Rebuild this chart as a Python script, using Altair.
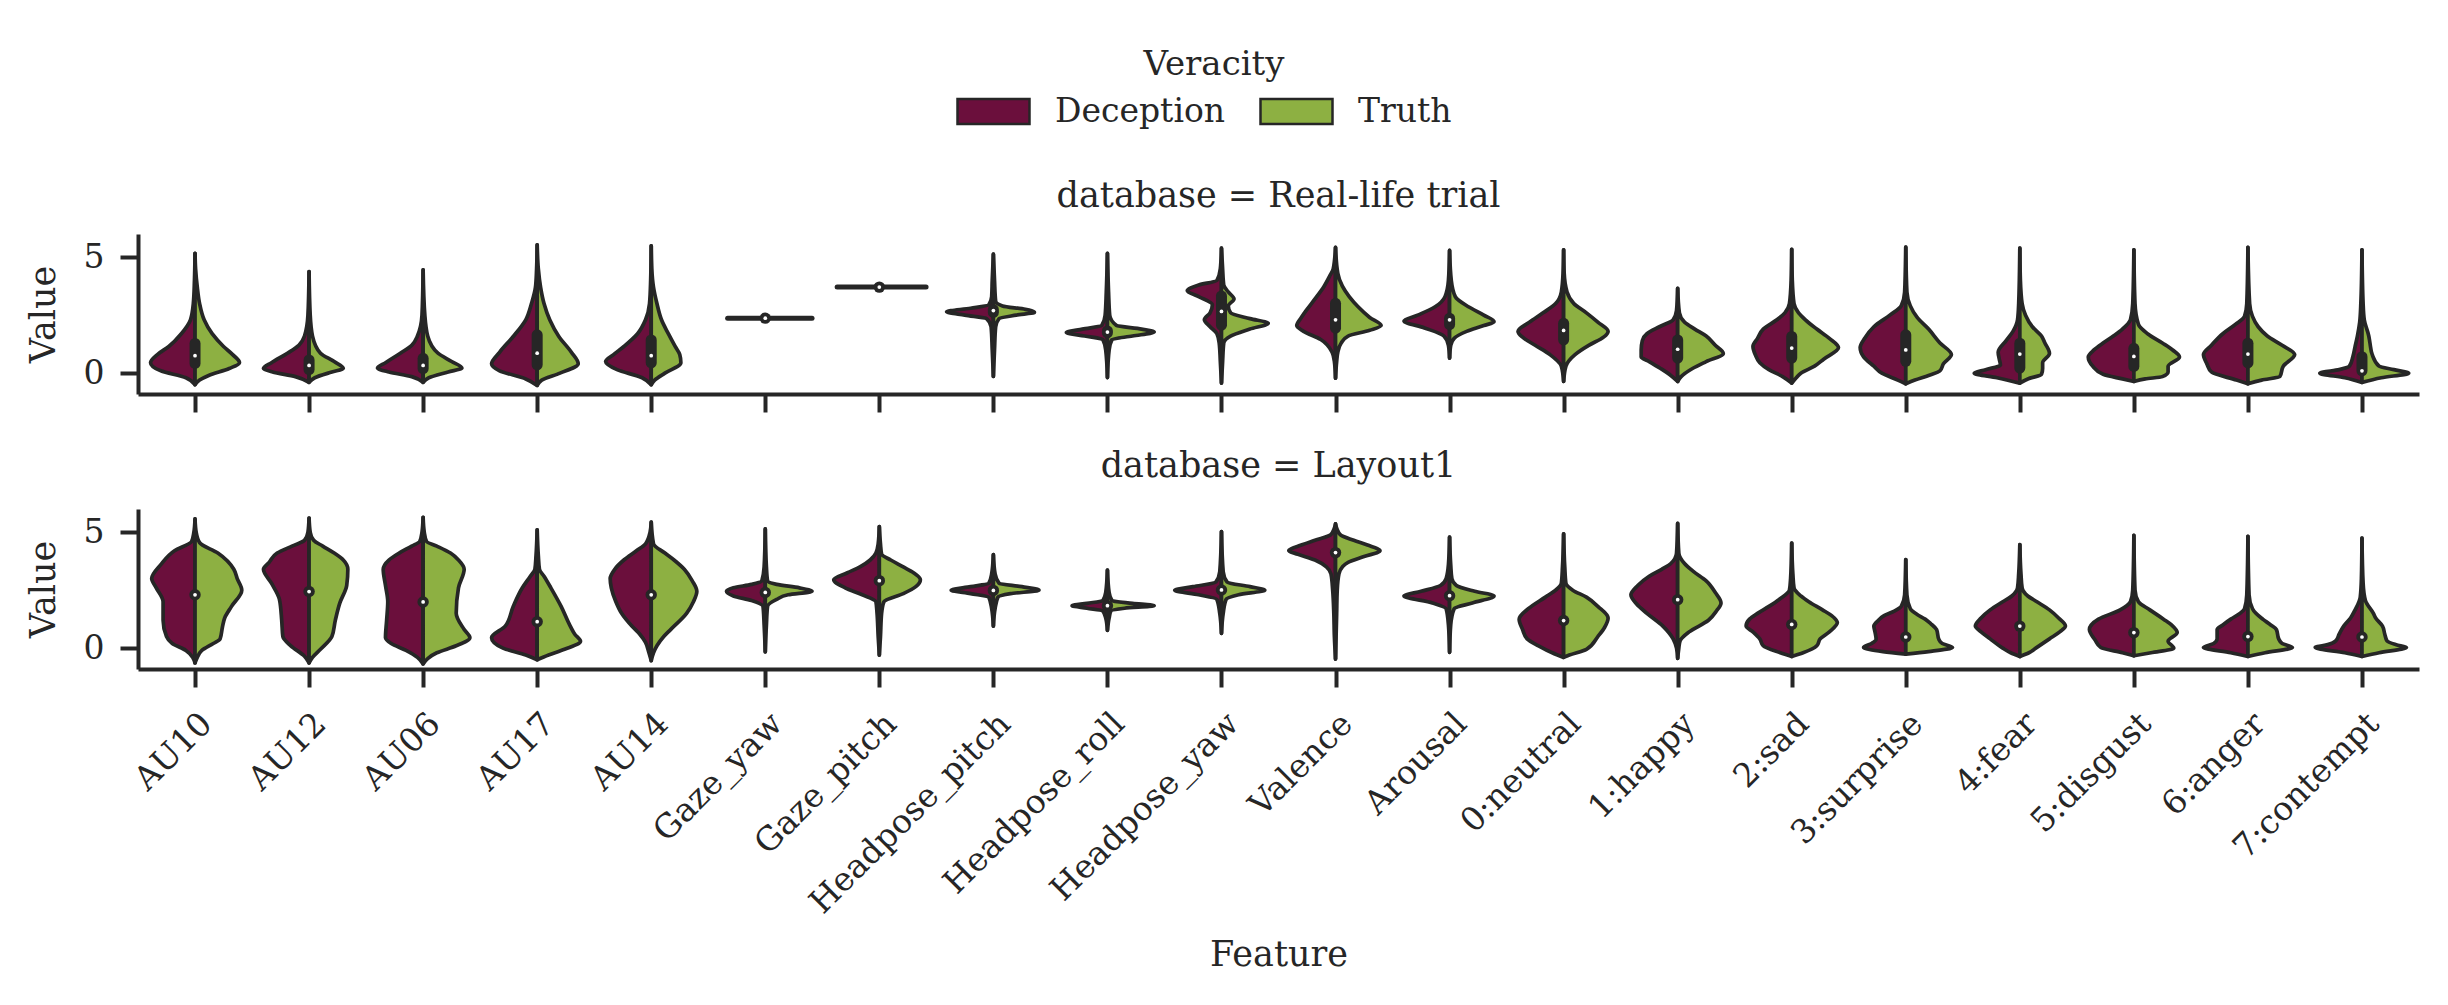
import json
import altair as alt
import pandas as pd

FEATURES = ["AU10", "AU12", "AU06", "AU17", "AU14", "Gaze_yaw", "Gaze_pitch",
            "Headpose_pitch", "Headpose_roll", "Headpose_yaw", "Valence", "Arousal",
            "0:neutral", "1:happy", "2:sad", "3:surprise", "4:fear", "5:disgust",
            "6:anger", "7:contempt"]
VERACITY = ["Deception", "Truth"]
DATABASES = ["Real-life trial", "Layout1"]

# ---- Real-life trial: split-violin half profiles, (value, half-width in category units)
RL_DECEPTION = {
    "AU10": [(-0.5, 0), (-0.2, 0.08), (0.1, 0.3), (0.45, 0.39), (0.8, 0.33), (1.15, 0.23), (1.7, 0.12), (2.3, 0.04), (3.0, 0.015), (4.0, 0.005), (5.17, 0)],
    "AU12": [(-0.4, 0), (-0.15, 0.12), (0.05, 0.32), (0.2, 0.40), (0.45, 0.33), (0.86, 0.19), (1.2, 0.09), (1.6, 0.04), (2.5, 0.01), (4.38, 0)],
    "AU06": [(-0.4, 0), (-0.15, 0.1), (0.05, 0.3), (0.22, 0.40), (0.45, 0.33), (0.86, 0.2), (1.2, 0.1), (1.6, 0.05), (2.5, 0.01), (4.45, 0)],
    "AU17": [(-0.53, 0), (-0.25, 0.1), (0.1, 0.33), (0.4, 0.40), (0.9, 0.33), (1.58, 0.21), (2.3, 0.1), (3.0, 0.05), (3.7, 0.015), (4.5, 0.005), (5.53, 0)],
    "AU14": [(-0.5, 0), (-0.2, 0.08), (0.15, 0.3), (0.5, 0.40), (0.8, 0.33), (1.15, 0.24), (1.7, 0.12), (2.3, 0.05), (3.0, 0.015), (4.0, 0.005), (5.49, 0)],
    "Headpose_pitch": [(-0.14, 0), (1.0, 0.01), (2.0, 0.02), (2.35, 0.06), (2.5, 0.25), (2.65, 0.41), (2.8, 0.2), (2.95, 0.04), (3.3, 0.015), (4.0, 0.01), (5.13, 0)],
    "Headpose_roll": [(-0.19, 0), (1.0, 0.015), (1.45, 0.04), (1.6, 0.2), (1.75, 0.36), (1.9, 0.22), (2.05, 0.05), (2.5, 0.02), (3.5, 0.01), (5.17, 0)],
    "Headpose_yaw": [(-0.43, 0), (0.5, 0.01), (1.3, 0.02), (1.7, 0.04), (2.0, 0.1), (2.3, 0.15), (2.6, 0.1), (2.95, 0.08), (3.3, 0.2), (3.55, 0.30), (3.8, 0.2), (4.0, 0.04), (4.5, 0.01), (5.39, 0)],
    "Valence": [(-0.22, 0), (0.5, 0.01), (0.9, 0.03), (1.45, 0.13), (1.8, 0.28), (2.05, 0.34), (2.4, 0.3), (2.75, 0.25), (3.2, 0.18), (3.75, 0.1), (4.2, 0.05), (4.5, 0.02), (5.42, 0)],
    "Arousal": [(0.65, 0), (1.2, 0.01), (1.6, 0.05), (1.95, 0.22), (2.25, 0.40), (2.5, 0.28), (2.85, 0.13), (3.3, 0.04), (4.0, 0.01), (5.29, 0)],
    "0:neutral": [(-0.36, 0), (0.3, 0.02), (0.8, 0.12), (1.2, 0.25), (1.55, 0.36), (1.8, 0.40), (2.2, 0.3), (2.6, 0.18), (3.0, 0.07), (3.5, 0.02), (4.3, 0.005), (5.32, 0)],
    "1:happy": [(-0.36, 0), (-0.1, 0.06), (0.2, 0.15), (0.5, 0.25), (0.7, 0.32), (1.0, 0.32), (1.4, 0.31), (1.7, 0.27), (2.0, 0.16), (2.3, 0.04), (2.7, 0.01), (3.66, 0)],
    "2:sad": [(-0.43, 0), (-0.15, 0.08), (0.15, 0.2), (0.45, 0.28), (0.8, 0.32), (1.15, 0.34), (1.5, 0.3), (1.9, 0.25), (2.3, 0.13), (2.6, 0.06), (3.0, 0.02), (4.0, 0.005), (5.34, 0)],
    "3:surprise": [(-0.46, 0), (-0.3, 0.07), (0.0, 0.21), (0.3, 0.28), (0.7, 0.37), (1.1, 0.40), (1.5, 0.36), (2.0, 0.28), (2.5, 0.14), (2.9, 0.04), (3.5, 0.01), (5.43, 0)],
    "4:fear": [(-0.43, 0), (-0.2, 0.2), (0.0, 0.40), (0.15, 0.3), (0.35, 0.17), (0.6, 0.18), (0.9, 0.19), (1.4, 0.12), (1.8, 0.06), (2.3, 0.02), (3.0, 0.01), (5.39, 0)],
    "5:disgust": [(-0.36, 0), (-0.25, 0.1), (-0.05, 0.27), (0.3, 0.36), (0.7, 0.40), (1.0, 0.35), (1.3, 0.27), (1.6, 0.18), (1.9, 0.1), (2.3, 0.03), (3.0, 0.01), (5.32, 0)],
    "6:anger": [(-0.46, 0), (-0.3, 0.1), (0.05, 0.32), (0.4, 0.36), (0.8, 0.39), (1.2, 0.32), (1.7, 0.22), (2.1, 0.11), (2.45, 0.03), (3.0, 0.01), (5.42, 0)],
    "7:contempt": [(-0.4, 0), (-0.2, 0.15), (0.0, 0.37), (0.15, 0.2), (0.3, 0.11), (0.7, 0.08), (1.15, 0.06), (1.6, 0.04), (2.2, 0.02), (3.0, 0.01), (5.32, 0)],
}
RL_TRUTH = {
    "AU10": [(-0.5, 0), (-0.3, 0.04), (-0.1, 0.12), (0.2, 0.3), (0.45, 0.39), (0.8, 0.33), (1.15, 0.25), (1.7, 0.15), (2.3, 0.08), (3.0, 0.04), (3.7, 0.02), (4.5, 0.005), (5.17, 0)],
    "AU12": [(-0.4, 0), (-0.2, 0.05), (0.05, 0.2), (0.2, 0.30), (0.5, 0.22), (0.86, 0.10), (1.6, 0.03), (2.5, 0.01), (4.38, 0)],
    "AU06": [(-0.4, 0), (-0.2, 0.05), (0.05, 0.22), (0.22, 0.34), (0.5, 0.25), (0.86, 0.13), (1.6, 0.04), (2.5, 0.015), (4.45, 0)],
    "AU17": [(-0.53, 0), (-0.3, 0.04), (0.0, 0.2), (0.4, 0.36), (0.9, 0.3), (1.58, 0.19), (2.3, 0.11), (3.0, 0.06), (3.7, 0.03), (4.5, 0.01), (5.53, 0)],
    "AU14": [(-0.5, 0), (-0.3, 0.03), (0.0, 0.12), (0.45, 0.26), (0.8, 0.25), (1.15, 0.21), (1.7, 0.15), (2.3, 0.09), (3.0, 0.05), (3.7, 0.02), (4.5, 0.005), (5.49, 0)],
    "Headpose_pitch": [(-0.14, 0), (1.0, 0.01), (2.0, 0.02), (2.35, 0.05), (2.5, 0.2), (2.62, 0.36), (2.75, 0.28), (2.9, 0.08), (3.1, 0.02), (4.0, 0.01), (5.13, 0)],
    "Headpose_roll": [(-0.19, 0), (1.0, 0.015), (1.45, 0.04), (1.6, 0.22), (1.77, 0.41), (1.9, 0.3), (2.05, 0.08), (2.5, 0.02), (3.5, 0.01), (5.17, 0)],
    "Headpose_yaw": [(-0.43, 0), (0.5, 0.01), (1.3, 0.02), (1.6, 0.08), (1.9, 0.25), (2.15, 0.41), (2.35, 0.25), (2.6, 0.08), (2.9, 0.06), (3.2, 0.11), (3.5, 0.06), (3.8, 0.02), (4.5, 0.01), (5.39, 0)],
    "Valence": [(-0.22, 0), (0.5, 0.01), (0.9, 0.02), (1.3, 0.05), (1.6, 0.11), (1.85, 0.3), (2.05, 0.40), (2.4, 0.3), (2.85, 0.2), (3.3, 0.12), (3.75, 0.06), (4.3, 0.02), (5.42, 0)],
    "Arousal": [(0.65, 0), (1.2, 0.01), (1.5, 0.04), (1.8, 0.15), (2.05, 0.3), (2.22, 0.39), (2.5, 0.3), (2.85, 0.17), (3.3, 0.05), (4.0, 0.015), (5.29, 0)],
    "0:neutral": [(-0.36, 0), (0.3, 0.02), (0.8, 0.1), (1.2, 0.22), (1.55, 0.35), (1.8, 0.39), (2.2, 0.3), (2.6, 0.2), (3.0, 0.09), (3.5, 0.03), (4.3, 0.005), (5.32, 0)],
    "1:happy": [(-0.36, 0), (-0.15, 0.03), (0.2, 0.13), (0.5, 0.25), (0.85, 0.40), (1.2, 0.33), (1.6, 0.25), (1.9, 0.15), (2.2, 0.06), (2.6, 0.015), (3.66, 0)],
    "2:sad": [(-0.43, 0), (-0.2, 0.04), (0.0, 0.08), (0.3, 0.2), (0.6, 0.28), (1.1, 0.41), (1.5, 0.33), (1.9, 0.22), (2.3, 0.12), (2.6, 0.06), (3.0, 0.02), (4.0, 0.005), (5.34, 0)],
    "3:surprise": [(-0.46, 0), (-0.3, 0.08), (-0.1, 0.2), (0.1, 0.3), (0.4, 0.33), (0.8, 0.40), (1.3, 0.3), (1.9, 0.2), (2.4, 0.1), (2.9, 0.04), (3.5, 0.01), (5.43, 0)],
    "4:fear": [(-0.43, 0), (-0.25, 0.07), (-0.05, 0.19), (0.2, 0.2), (0.45, 0.2), (0.85, 0.26), (1.3, 0.22), (1.6, 0.19), (2.0, 0.11), (2.5, 0.05), (3.0, 0.02), (4.0, 0.005), (5.39, 0)],
    "5:disgust": [(-0.36, 0), (-0.25, 0.1), (-0.15, 0.25), (0.05, 0.3), (0.3, 0.3), (0.7, 0.40), (1.0, 0.34), (1.3, 0.25), (1.7, 0.12), (2.1, 0.04), (3.0, 0.01), (5.32, 0)],
    "6:anger": [(-0.46, 0), (-0.3, 0.12), (-0.15, 0.28), (0.3, 0.31), (0.8, 0.41), (1.2, 0.3), (1.6, 0.17), (2.0, 0.09), (2.45, 0.04), (3.0, 0.015), (5.42, 0)],
    "7:contempt": [(-0.4, 0), (-0.2, 0.17), (0.0, 0.41), (0.15, 0.28), (0.3, 0.15), (0.8, 0.09), (1.3, 0.07), (1.6, 0.06), (2.3, 0.02), (3.0, 0.01), (5.32, 0)],
}
# zero-variance features drawn as flat lines: value, Deception half-width, Truth half-width
RL_FLAT = {"Gaze_yaw": (2.37, 0.33, 0.41), "Gaze_pitch": (3.71, 0.37, 0.41)}
RL_Q1 = [0.42, 0.15, 0.19, 0.36, 0.44, None, None, 2.62, 1.74, 2.07, 1.94, 2.09, 1.44, 0.65, 0.65, 0.51, 0.22, 0.29, 0.44, 0.1]
RL_MEDIAN = [0.75, 0.33, 0.33, 0.86, 0.75, 2.37, 3.71, 2.70, 1.77, 2.66, 2.30, 2.30, 1.84, 1.03, 1.08, 1.0, 0.82, 0.72, 0.82, 0.1]
RL_Q3 = [1.28, 0.57, 0.64, 1.65, 1.43, None, None, 2.74, 1.82, 3.33, 3.01, 2.37, 2.15, 1.43, 1.58, 1.65, 1.29, 1.07, 1.29, 0.71]

# ---- Layout1
L1_DECEPTION = {
    "AU10": [(-0.64, 0), (-0.4, 0.02), (-0.1, 0.08), (0.2, 0.2), (0.5, 0.25), (1.2, 0.28), (2.0, 0.28), (2.6, 0.34), (3.0, 0.38), (3.6, 0.3), (4.2, 0.18), (4.6, 0.03), (5.0, 0.01), (5.57, 0)],
    "AU12": [(-0.64, 0), (-0.35, 0.04), (0.1, 0.16), (0.5, 0.23), (1.2, 0.24), (2.1, 0.26), (2.8, 0.33), (3.4, 0.40), (3.7, 0.35), (4.1, 0.28), (4.4, 0.15), (4.65, 0.04), (5.0, 0.01), (5.61, 0)],
    "AU06": [(-0.68, 0), (-0.4, 0.05), (-0.1, 0.15), (0.2, 0.28), (0.45, 0.33), (1.2, 0.32), (2.0, 0.31), (2.7, 0.33), (3.4, 0.35), (3.8, 0.3), (4.1, 0.21), (4.4, 0.1), (4.6, 0.03), (5.0, 0.01), (5.64, 0)],
    "AU17": [(-0.5, 0), (-0.3, 0.1), (0.0, 0.3), (0.45, 0.40), (0.95, 0.28), (1.8, 0.21), (2.6, 0.13), (3.1, 0.06), (3.4, 0.02), (4.0, 0.01), (5.1, 0)],
    "AU14": [(-0.54, 0), (-0.2, 0.02), (0.25, 0.05), (0.6, 0.1), (0.95, 0.17), (1.5, 0.26), (2.0, 0.31), (2.6, 0.35), (3.0, 0.36), (3.4, 0.32), (3.8, 0.24), (4.2, 0.13), (4.5, 0.05), (5.0, 0.01), (5.43, 0)],
    "Gaze_yaw": [(-0.16, 0), (1.0, 0.01), (1.8, 0.02), (2.05, 0.12), (2.25, 0.28), (2.45, 0.34), (2.6, 0.28), (2.75, 0.12), (2.9, 0.03), (3.5, 0.01), (5.14, 0)],
    "Gaze_pitch": [(-0.3, 0), (0.5, 0.01), (1.5, 0.02), (2.0, 0.03), (2.3, 0.15), (2.6, 0.3), (2.95, 0.40), (3.25, 0.28), (3.5, 0.17), (3.8, 0.08), (4.1, 0.03), (4.5, 0.01), (5.24, 0)],
    "Headpose_pitch": [(0.95, 0), (1.7, 0.015), (2.2, 0.04), (2.35, 0.2), (2.5, 0.37), (2.65, 0.2), (2.8, 0.04), (3.2, 0.015), (4.03, 0)],
    "Headpose_roll": [(0.77, 0), (1.3, 0.015), (1.6, 0.04), (1.72, 0.18), (1.83, 0.31), (1.93, 0.18), (2.05, 0.04), (2.4, 0.015), (3.37, 0)],
    "Headpose_yaw": [(0.64, 0), (1.5, 0.015), (2.1, 0.04), (2.3, 0.2), (2.5, 0.41), (2.65, 0.25), (2.85, 0.05), (3.3, 0.015), (5.03, 0)],
    "Valence": [(-0.47, 0), (0.5, 0.01), (1.5, 0.015), (2.5, 0.025), (3.2, 0.04), (3.5, 0.08), (3.8, 0.18), (4.05, 0.33), (4.2, 0.41), (4.45, 0.3), (4.65, 0.18), (4.9, 0.04), (5.36, 0)],
    "Arousal": [(-0.18, 0), (1.0, 0.01), (1.7, 0.03), (1.95, 0.15), (2.25, 0.40), (2.45, 0.25), (2.7, 0.08), (3.0, 0.03), (3.6, 0.01), (4.79, 0)],
    "0:neutral": [(-0.4, 0), (-0.2, 0.1), (0.1, 0.22), (0.4, 0.32), (0.8, 0.36), (1.25, 0.39), (1.7, 0.31), (2.2, 0.16), (2.5, 0.07), (2.8, 0.02), (3.5, 0.01), (4.93, 0)],
    "1:happy": [(-0.44, 0), (0.0, 0.01), (0.4, 0.04), (0.95, 0.13), (1.5, 0.27), (1.9, 0.36), (2.3, 0.41), (2.7, 0.35), (3.1, 0.25), (3.4, 0.14), (3.65, 0.06), (4.1, 0.01), (5.38, 0)],
    "2:sad": [(-0.36, 0), (-0.2, 0.1), (0.1, 0.25), (0.4, 0.28), (0.7, 0.34), (0.95, 0.40), (1.25, 0.37), (1.5, 0.30), (1.8, 0.2), (2.1, 0.11), (2.5, 0.02), (3.0, 0.01), (4.53, 0)],
    "3:surprise": [(-0.26, 0), (-0.15, 0.2), (0.03, 0.37), (0.2, 0.3), (0.38, 0.26), (0.7, 0.27), (0.95, 0.28), (1.2, 0.24), (1.4, 0.19), (1.6, 0.1), (1.8, 0.04), (2.3, 0.01), (3.82, 0)],
    "4:fear": [(-0.36, 0), (-0.2, 0.08), (0.0, 0.15), (0.4, 0.26), (0.7, 0.34), (0.95, 0.39), (1.3, 0.34), (1.65, 0.26), (2.0, 0.15), (2.25, 0.07), (2.6, 0.02), (3.2, 0.01), (4.47, 0)],
    "5:disgust": [(-0.33, 0), (-0.2, 0.1), (0.03, 0.29), (0.35, 0.34), (0.8, 0.39), (1.25, 0.31), (1.65, 0.12), (2.0, 0.03), (2.5, 0.01), (4.86, 0)],
    "6:anger": [(-0.36, 0), (-0.2, 0.15), (0.03, 0.39), (0.2, 0.3), (0.4, 0.27), (0.8, 0.27), (1.0, 0.22), (1.25, 0.15), (1.5, 0.07), (1.7, 0.03), (2.3, 0.01), (4.82, 0)],
    "7:contempt": [(-0.36, 0), (-0.2, 0.15), (0.03, 0.41), (0.15, 0.3), (0.31, 0.23), (0.6, 0.2), (0.95, 0.16), (1.3, 0.1), (1.65, 0.06), (2.2, 0.015), (3.0, 0.005), (4.74, 0)],
}
L1_TRUTH = {
    "AU10": [(-0.64, 0), (-0.4, 0.02), (-0.1, 0.06), (0.2, 0.16), (0.4, 0.22), (0.9, 0.24), (1.3, 0.26), (1.8, 0.32), (2.5, 0.41), (3.0, 0.37), (3.4, 0.34), (4.1, 0.2), (4.55, 0.04), (5.0, 0.01), (5.57, 0)],
    "AU12": [(-0.64, 0), (-0.4, 0.03), (-0.05, 0.1), (0.5, 0.2), (1.2, 0.23), (1.95, 0.27), (2.7, 0.33), (3.4, 0.34), (3.8, 0.3), (4.1, 0.22), (4.4, 0.12), (4.65, 0.04), (5.0, 0.01), (5.61, 0)],
    "AU06": [(-0.68, 0), (-0.45, 0.04), (-0.2, 0.12), (0.1, 0.29), (0.45, 0.41), (0.8, 0.36), (1.5, 0.29), (2.6, 0.31), (3.4, 0.36), (3.8, 0.31), (4.1, 0.24), (4.4, 0.12), (4.6, 0.03), (5.0, 0.01), (5.64, 0)],
    "AU17": [(-0.5, 0), (-0.3, 0.1), (-0.05, 0.24), (0.3, 0.38), (0.6, 0.33), (0.95, 0.29), (1.8, 0.21), (2.6, 0.12), (3.1, 0.06), (3.4, 0.02), (4.0, 0.01), (5.1, 0)],
    "AU14": [(-0.54, 0), (-0.2, 0.02), (0.1, 0.05), (0.5, 0.11), (0.8, 0.17), (1.5, 0.31), (2.0, 0.37), (2.45, 0.40), (2.9, 0.36), (3.4, 0.29), (3.8, 0.2), (4.1, 0.12), (4.5, 0.02), (5.43, 0)],
    "Gaze_yaw": [(-0.16, 0), (1.0, 0.01), (1.8, 0.02), (2.1, 0.1), (2.3, 0.2), (2.45, 0.41), (2.6, 0.3), (2.75, 0.1), (2.9, 0.02), (3.5, 0.01), (5.14, 0)],
    "Gaze_pitch": [(-0.3, 0), (0.5, 0.01), (1.5, 0.02), (2.0, 0.04), (2.35, 0.21), (2.65, 0.32), (2.95, 0.36), (3.25, 0.3), (3.5, 0.21), (3.8, 0.1), (4.05, 0.02), (4.5, 0.01), (5.24, 0)],
    "Headpose_pitch": [(0.95, 0), (1.7, 0.015), (2.2, 0.04), (2.35, 0.15), (2.5, 0.40), (2.65, 0.25), (2.8, 0.05), (3.2, 0.015), (4.03, 0)],
    "Headpose_roll": [(0.77, 0), (1.3, 0.015), (1.6, 0.03), (1.72, 0.15), (1.83, 0.41), (1.93, 0.22), (2.05, 0.04), (2.4, 0.015), (3.37, 0)],
    "Headpose_yaw": [(0.64, 0), (1.5, 0.015), (2.1, 0.04), (2.3, 0.15), (2.5, 0.38), (2.65, 0.25), (2.85, 0.05), (3.3, 0.015), (5.03, 0)],
    "Valence": [(-0.47, 0), (0.5, 0.005), (1.5, 0.01), (2.5, 0.015), (3.2, 0.03), (3.5, 0.06), (3.7, 0.11), (3.95, 0.25), (4.2, 0.39), (4.45, 0.28), (4.65, 0.16), (4.9, 0.04), (5.36, 0)],
    "Arousal": [(-0.18, 0), (1.0, 0.01), (1.7, 0.04), (1.95, 0.2), (2.25, 0.39), (2.45, 0.22), (2.7, 0.06), (3.0, 0.02), (3.6, 0.01), (4.79, 0)],
    "0:neutral": [(-0.4, 0), (-0.3, 0.05), (-0.05, 0.2), (0.5, 0.3), (0.9, 0.36), (1.3, 0.39), (1.8, 0.3), (2.2, 0.2), (2.5, 0.08), (2.8, 0.02), (3.5, 0.01), (4.93, 0)],
    "1:happy": [(-0.44, 0), (0.0, 0.01), (0.3, 0.02), (0.7, 0.1), (1.2, 0.27), (1.6, 0.34), (1.95, 0.38), (2.4, 0.33), (2.9, 0.25), (3.3, 0.14), (3.65, 0.06), (4.1, 0.01), (5.38, 0)],
    "2:sad": [(-0.36, 0), (-0.2, 0.1), (0.1, 0.22), (0.4, 0.25), (0.7, 0.33), (1.1, 0.40), (1.4, 0.35), (1.65, 0.27), (2.0, 0.15), (2.25, 0.08), (2.6, 0.02), (3.2, 0.01), (4.53, 0)],
    "3:surprise": [(-0.26, 0), (-0.15, 0.2), (0.03, 0.41), (0.2, 0.32), (0.38, 0.29), (0.8, 0.27), (1.05, 0.22), (1.25, 0.17), (1.45, 0.1), (1.7, 0.04), (2.3, 0.01), (3.82, 0)],
    "4:fear": [(-0.36, 0), (-0.2, 0.08), (0.0, 0.14), (0.4, 0.26), (0.7, 0.35), (0.95, 0.40), (1.3, 0.34), (1.65, 0.26), (2.0, 0.15), (2.25, 0.07), (2.6, 0.02), (3.2, 0.01), (4.47, 0)],
    "5:disgust": [(-0.33, 0), (-0.2, 0.15), (0.0, 0.35), (0.3, 0.3), (0.67, 0.38), (1.0, 0.33), (1.25, 0.26), (1.65, 0.14), (2.0, 0.04), (2.5, 0.01), (4.86, 0)],
    "6:anger": [(-0.36, 0), (-0.2, 0.15), (0.03, 0.39), (0.2, 0.3), (0.4, 0.27), (0.8, 0.25), (1.0, 0.2), (1.25, 0.13), (1.5, 0.07), (1.7, 0.04), (2.3, 0.01), (4.82, 0)],
    "7:contempt": [(-0.36, 0), (-0.2, 0.15), (0.03, 0.39), (0.15, 0.3), (0.31, 0.22), (0.6, 0.2), (0.95, 0.18), (1.3, 0.12), (1.5, 0.1), (2.05, 0.03), (2.8, 0.01), (4.74, 0)],
}
L1_MEDIAN = [2.30, 2.44, 1.99, 1.14, 2.30, 2.40, 2.91, 2.49, 1.83, 2.51, 4.12, 2.26, 1.19, 2.09, 1.02, 0.48, 0.95, 0.67, 0.50, 0.48]

COLORS = ["#6b0f3c", "#8db042"]
EDGE = "#262626"
FONT = "DejaVu Serif"
W, H = 2281, 160


def violin_frame(db, dec, tru):
    rows = []
    for side, prof in (("Deception", dec), ("Truth", tru)):
        for feat, pts in prof.items():
            i = FEATURES.index(feat)
            for v, w in pts:
                rows.append({"db": db, "feature": feat, "veracity": side,
                             "grp": feat + "|" + side, "val": v,
                             "xa": i - w if side == "Deception" else i,
                             "xb": i if side == "Deception" else i + w})
    return pd.DataFrame(rows)


viol = {DATABASES[0]: violin_frame(DATABASES[0], RL_DECEPTION, RL_TRUTH),
        DATABASES[1]: violin_frame(DATABASES[1], L1_DECEPTION, L1_TRUTH)}

flat_df = pd.DataFrame([{"feature": f, "val": v, "xa": FEATURES.index(f) - wd,
                         "xb": FEATURES.index(f) + wt} for f, (v, wd, wt) in RL_FLAT.items()])

box_rl = pd.DataFrame([{"idx": i, "q1": a, "q3": b} for i, (a, b) in enumerate(zip(RL_Q1, RL_Q3)) if a is not None])
med = {DATABASES[0]: pd.DataFrame({"idx": list(range(20)), "med": RL_MEDIAN}),
       DATABASES[1]: pd.DataFrame({"idx": list(range(20)), "med": L1_MEDIAN})}
ring = {DATABASES[0]: pd.DataFrame({"idx": [5, 6], "med": [RL_MEDIAN[5], RL_MEDIAN[6]]}),
        DATABASES[1]: pd.DataFrame({"idx": list(range(20)), "med": L1_MEDIAN})}

xscale = alt.Scale(domain=[-0.5, 19.5], nice=False, zero=False)
yscale = alt.Scale(domain=[-0.9, 6.0], nice=False, zero=False)
label_expr = json.dumps(FEATURES) + "[round(datum.value)]"


def x_axis(show):
    if show:
        return alt.Axis(values=list(range(20)), labelExpr=label_expr, labelAngle=-45,
                        labelAlign="right", labelBaseline="top", labelPadding=20,
                        labelOverlap=False, labelLimit=0, labelBound=False,
                        title="Feature", titlePadding=68)
    return alt.Axis(values=list(range(20)), labels=False, title=None)


y_axis = alt.Axis(values=[0, 5], title="Value", labelPadding=16, titlePadding=22)

legend = alt.Legend(title="Veracity", orient="none", legendX=839, legendY=-186,
                    direction="horizontal", titleAnchor="middle", titleOrient="top",
                    titleFont=FONT, titleFontSize=34, titleFontWeight="normal", titleColor=EDGE,
                    titlePadding=13, labelLimit=0,
                    labelFont=FONT, labelFontSize=33, labelColor=EDGE, labelOffset=45,
                    columnPadding=29, symbolType="M-2.88,-1H2.88V1H-2.88Z", symbolSize=625,
                    symbolStrokeColor=EDGE, symbolStrokeWidth=2.5, symbolOpacity=1)


def panel(db, show, title_offset):
    areas = alt.Chart(viol[db]).mark_area(
        orient="horizontal", interpolate="monotone", stroke=EDGE, strokeWidth=3.7,
        opacity=1, strokeJoin="round"
    ).encode(
        y=alt.Y("val:Q", scale=yscale, axis=y_axis),
        x=alt.X("xa:Q", scale=xscale, axis=x_axis(show), stack=None),
        x2="xb:Q",
        color=alt.Color("veracity:N", scale=alt.Scale(domain=VERACITY, range=COLORS), legend=legend),
        detail="grp:N",
    )
    layers = [areas]
    if db == DATABASES[0]:
        layers.append(alt.Chart(flat_df).mark_rule(color=EDGE, strokeWidth=5, strokeCap="round").encode(
            x=alt.X("xa:Q", scale=xscale), x2="xb:Q", y=alt.Y("val:Q", scale=yscale)))
        layers.append(alt.Chart(box_rl).mark_rule(color=EDGE, strokeWidth=11, strokeCap="round").encode(
            x=alt.X("idx:Q", scale=xscale), y=alt.Y("q1:Q", scale=yscale), y2="q3:Q"))
    layers.append(alt.Chart(ring[db]).mark_point(filled=True, color=EDGE, size=130, opacity=1).encode(
        x=alt.X("idx:Q", scale=xscale), y=alt.Y("med:Q", scale=yscale)))
    layers.append(alt.Chart(med[db]).mark_point(filled=True, color="white", size=14, opacity=1).encode(
        x=alt.X("idx:Q", scale=xscale), y=alt.Y("med:Q", scale=yscale)))
    return alt.layer(*layers).properties(
        width=W, height=H,
        title=alt.TitleParams("database = " + db, font=FONT, fontSize=35, fontWeight="normal",
                              color=EDGE, anchor="middle", offset=title_offset))


chart = alt.vconcat(panel(DATABASES[0], False, 20), panel(DATABASES[1], True, 25),
                    spacing=35).configure_view(
    stroke=None
).configure_axis(
    grid=False, domainColor=EDGE, domainWidth=4, tickColor=EDGE, tickWidth=4, tickSize=18,
    labelFont=FONT, labelFontSize=33, labelColor=EDGE, titleFont=FONT, titleFontSize=35,
    titleFontWeight="normal", titleColor=EDGE
).properties(padding={"left": 18, "top": 40, "right": 5, "bottom": 5}, background="white")

chart.save("out.html", embed_options={"renderer": "svg", "actions": False})
